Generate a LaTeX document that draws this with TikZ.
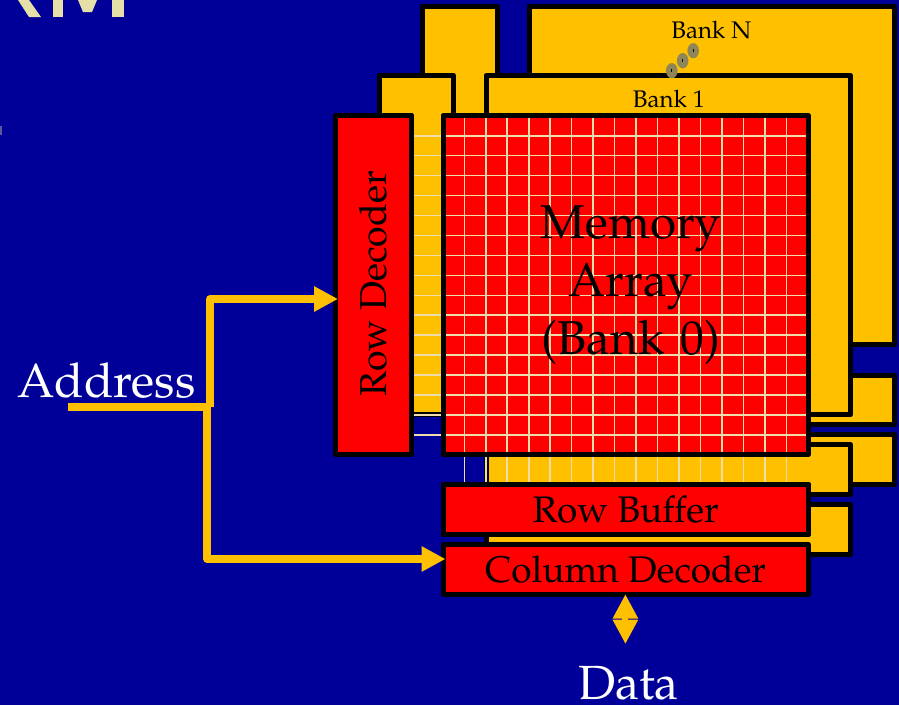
\documentclass[tikz,border=0pt]{standalone}
\usepackage[T1]{fontenc}
\renewcommand\rmdefault{ppl}
\usetikzlibrary{arrows.meta,shapes.geometric,calc}
\definecolor{slidebg}{HTML}{000099}
\definecolor{gold}{HTML}{FFC000}
\definecolor{cellred}{HTML}{FF0000}
\definecolor{gridline}{HTML}{EEDDAA}
\definecolor{dotgrey}{HTML}{8F8658}
\definecolor{titlefrag}{HTML}{E4E0A8}
\tikzset{
  x=1pt,y=-1pt,
  bankbox/.style={draw=black,fill=gold,line width=5pt,line join=round},
  redbox/.style={draw=black,fill=cellred,line width=5pt,line join=round,outer sep=0pt,inner sep=0pt,text=black},
  gridl/.style={draw=gridline,line width=1.6pt},
  goldline/.style={draw=gold,line width=7.4pt,line join=round},
  goldarrow/.style={goldline,-{Triangle[length=24pt,width=24pt]}},
  goldboth/.style={draw=gold,line width=6pt,{Triangle[length=24.5pt,width=24pt]}-{Triangle[length=24.5pt,width=24pt]}},
  whitelabel/.style={text=white,font=\fontsize{48}{50}\selectfont,inner sep=0pt,outer sep=0pt,anchor=base},
  banklabel/.style={text=black,font=\fontsize{24}{28}\selectfont,inner sep=0pt,anchor=base},
  dotmark/.style={ellipse,fill=dotgrey,minimum width=11.6pt,minimum height=15.2pt,inner sep=0pt}
}
\begin{document}
\begin{tikzpicture}
\fill[slidebg] (0,0) rectangle (899,705);
\useasboundingbox (0,0) rectangle (899,705);
% remains of the cropped title
\fill[titlefrag] (18,0) -- (29,0) -- (41,17) -- (29,17) -- cycle;
\fill[titlefrag] (53,0) rectangle (63,17);
\fill[titlefrag] (78,0) -- (97,0) -- (92,12) -- (83,12) -- cycle;
\fill[titlefrag] (112,0) rectangle (124,17);
\fill[titlefrag!40!slidebg] (0,126) rectangle (2,135);
% bank N
\draw[bankbox] (422,6) rectangle (497,200);
\draw[bankbox] (529,6) rectangle (894,344);
\draw[bankbox] (529,375) rectangle (894,424.3);
\draw[bankbox] (529,434.8) rectangle (894,484.5);
\node[banklabel] (bankn) at (711.3,38.3) {Bank N};
% bank 1
\draw[bankbox] (379,75.4) rectangle (453.5,414.7);
\draw[bankbox] (486,75.4) rectangle (850.5,414.7);
\draw[bankbox] (486,444.8) rectangle (850.5,494.3);
\draw[bankbox] (486,504.5) rectangle (850.5,554.3);
\node[banklabel] (bankone) at (668.9,107.7) {Bank 1};
% dots
\foreach \n/\px/\py in {a/671.8/70.7,b/682.7/60.7,c/693.2/50.7}{
  \node[dotmark] (dot\n) at (\px,\py) {};
  \fill[black] ($(dot\n)+(-.5,-1.3)$) rectangle ($(dot\n)+(.5,1.3)$);
}
% bank 0
\node[redbox,draw=none,minimum width=365.3pt,minimum height=338.8pt] (array) at (625.65,284.9) {};
\node[redbox,minimum width=75.5pt,minimum height=338.8pt] (rowdec) at (373.25,284.9) {};
\node[redbox,minimum width=365.3pt,minimum height=49.8pt,font=\fontsize{37}{40}\selectfont] (rowbuf) at (625.65,509.4) {Row Buffer};
\foreach \k in {0,...,15}{
  \draw[gridl] (464.3+21.47*\k,116) -- (464.3+21.47*\k,484);
  \draw[gridl] (rowdec.east |- 0,135.7+19.95*\k) -- (array.east |- 0,135.7+19.95*\k);
}
\draw[black,line width=5pt,line join=round] (array.south west) rectangle (array.north east);
\draw[redbox,fill=none] (rowdec.south west) rectangle (rowdec.north east);
\draw[redbox,fill=none] (rowbuf.south west) rectangle (rowbuf.north east);
\node[redbox,minimum width=365.3pt,minimum height=49.8pt,font=\fontsize{37}{40}\selectfont] (coldec) at (625.65,569.3) {Column Decoder};
\node[rotate=90,text=black,inner sep=0pt,font=\fontsize{37.5}{40}\selectfont] (rowtext) at (373,284) {Row Decoder};
\node[text=black,inner sep=0pt,font=\fontsize{47.5}{58}\selectfont,align=center,text width=300pt] (memtext) at (631,285) {Memory\\Array\\(Bank 0)};
% labels
\node[whitelabel] (address) at (106.5,397.3) {Address};
\node[whitelabel] (data) at (628.4,699.3) {Data};
% connectors
\coordinate (addrstart) at (68,407);
\coordinate (upj) at (210,407);
\coordinate (lowj) at (207,407);
\draw[goldline] (addrstart) -- (upj);
\draw[goldarrow,shorten >=-2.5pt] (upj) -- (210,299) -- (rowdec.west |- 0,299);
\draw[goldarrow,shorten >=-2.5pt] (lowj) -- (207,559) -- (coldec.west |- 0,559);
\draw[goldboth,shorten >=22pt] (coldec.south -| 625.4,0) -- (data.north -| 625.4,0);
\end{tikzpicture}
\end{document}
